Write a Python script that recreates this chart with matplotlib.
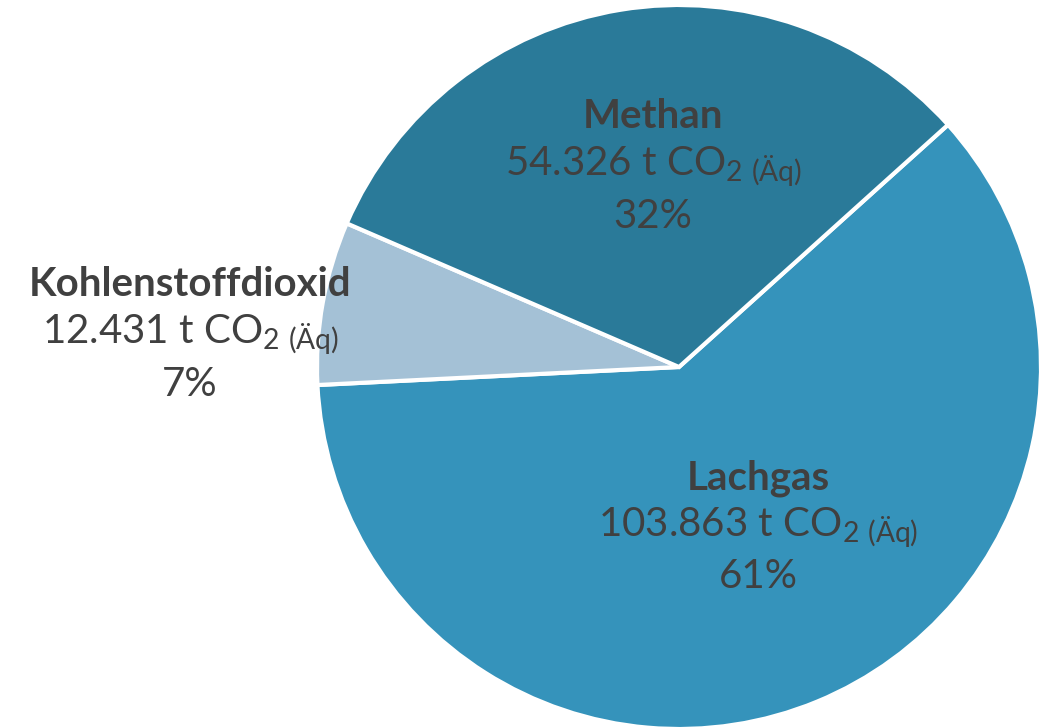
import matplotlib.pyplot as plt

# Treibhausgase, t CO2-Aequivalent
gases   = ['Lachgas', 'Kohlenstoffdioxid', 'Methan']
amounts = [103863, 12431, 54326]
colors  = ['#3593bb', '#a4c1d6', '#2a7a99']

plt.rcParams['font.family'] = ['Lato', 'DejaVu Sans']
plt.rcParams['mathtext.fontset'] = 'custom'
plt.rcParams['mathtext.rm'] = 'Lato'

W, H = 1045, 727
fig = plt.figure(figsize=(W / 100, H / 100), dpi=100)
ax = fig.add_axes([0, 0, 1, 1])

total = sum(amounts)
# boundary Lachgas / Methan sits at 42 degrees, slices run clockwise
ax.pie(amounts, colors=colors, startangle=42, counterclock=False,
       center=(679, H - 367), radius=362, frame=True,
       wedgeprops=dict(edgecolor='white', linewidth=3))
ax.set_xlim(0, W)
ax.set_ylim(0, H)
ax.set_aspect('equal')
ax.axis('off')

# label anchor (pixel coords of the reference, y from top)
label_pos = {'Lachgas': (758, 478), 'Kohlenstoffdioxid': (190, 285),
             'Methan': (653, 117)}

txtcol = '#404040'
for name, val in zip(gases, amounts):
    x, y = label_pos[name]
    num = f'{val:,}'.replace(',', '.')
    pct = round(100 * val / total)
    ax.text(x, H - y, name, ha='center', va='center', fontsize=29,
            fontweight='bold', color=txtcol)
    ax.text(x, H - y - 50, num + r' t CO$_{\mathregular{2\ (Äq)}}$',
            ha='center', va='center', fontsize=29, color=txtcol)
    ax.text(x, H - y - 99, f'{pct}%', ha='center', va='center',
            fontsize=29, color=txtcol)

fig.savefig('out.png', dpi=100, facecolor='white')
